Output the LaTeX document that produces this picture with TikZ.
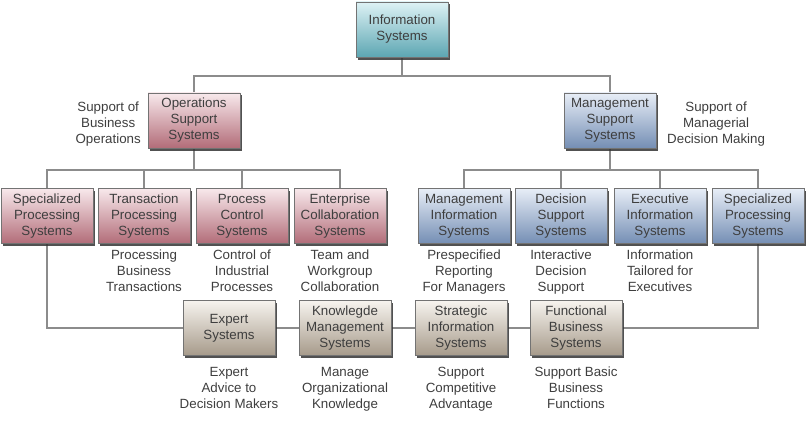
\documentclass[tikz,border=0pt]{standalone}
\usepackage{fontspec}
\setmainfont{Liberation Sans}
\usetikzlibrary{positioning, shadows, backgrounds}
\definecolor{tealtop}{RGB}{222,242,245}
\definecolor{tealbot}{RGB}{92,166,178}
\definecolor{redtop}{RGB}{248,233,236}
\definecolor{redbot}{RGB}{178,108,120}
\definecolor{bluetop}{RGB}{232,238,247}
\definecolor{bluebot}{RGB}{116,142,180}
\definecolor{tantop}{RGB}{247,244,239}
\definecolor{tanbot}{RGB}{166,154,138}
\definecolor{txtgray}{RGB}{62,62,62}
\definecolor{linegray}{RGB}{140,140,140}

\begin{document}
\begin{tikzpicture}[x=0.75pt, y=-0.75pt,
  every node/.style={font=\fontsize{10}{12}\selectfont, text=txtgray},
  box/.style={rectangle, draw=black!55, line width=0.4pt, inner sep=2pt,
              align=center, minimum width=69pt, minimum height=41.5pt,
              drop shadow={shadow xshift=1.8pt, shadow yshift=-1.8pt,
                           fill=black!80, opacity=0.85}},
  tealbox/.style={box, top color=tealtop, bottom color=tealbot},
  redbox/.style={box, top color=redtop, bottom color=redbot},
  bluebox/.style={box, top color=bluetop, bottom color=bluebot},
  tanbox/.style={box, top color=tantop, bottom color=tanbot},
  note/.style={align=center, inner sep=1pt},
  link/.style={draw=linegray, line width=1pt}
]
  \useasboundingbox (0,0) rectangle (806,428);

  \node[tealbox] (is) at (402,29.5) {Information\\Systems};
  \node[redbox]  (oss) at (194,120.5) {Operations\\Support\\Systems};
  \node[bluebox] (mss) at (610,120.5) {Management\\Support\\Systems};

  \node[redbox] (spl) at (47,216)  {Specialized\\Processing\\Systems};
  \node[redbox] (tps) at (144,216) {Transaction\\Processing\\Systems};
  \node[redbox] (pcs) at (242,216) {Process\\Control\\Systems};
  \node[redbox] (ecs) at (340,216) {Enterprise\\Collaboration\\Systems};

  \node[bluebox] (mis) at (464,216) {Management\\Information\\Systems};
  \node[bluebox] (dss) at (561,216) {Decision\\Support\\Systems};
  \node[bluebox] (eis) at (660,216) {Executive\\Information\\Systems};
  \node[bluebox] (spr) at (758,216) {Specialized\\Processing\\Systems};

  \node[tanbox] (es)  at (229,328) {Expert\\Systems};
  \node[tanbox] (kms) at (345,328) {Knowlegde\\Management\\Systems};
  \node[tanbox] (sis) at (461,328) {Strategic\\Information\\Systems};
  \node[tanbox] (fbs) at (576,328) {Functional\\Business\\Systems};

  \node[note, left=4pt of oss, yshift=-3pt]  (ossnote) {Support of\\Business\\Operations};
  \node[note, right=7pt of mss, yshift=-3pt] (mssnote) {Support of\\Managerial\\Decision Making};

  \node[note, below=3pt of tps] (tpsnote) {Processing\\Business\\Transactions};
  \node[note, below=3pt of pcs] (pcsnote) {Control of\\Industrial\\Processes};
  \node[note, below=3pt of ecs] (ecsnote) {Team and\\Workgroup\\Collaboration};
  \node[note, below=3pt of mis] (misnote) {Prespecified\\Reporting\\For Managers};
  \node[note, below=3pt of dss] (dssnote) {Interactive\\Decision\\Support};
  \node[note, below=3pt of eis] (eisnote) {Information\\Tailored for\\Executives};

  \node[note, below=7pt of es]  (esnote)  {Expert\\Advice to\\Decision Makers};
  \node[note, below=7pt of kms] (kmsnote) {Manage\\Organizational\\Knowledge};
  \node[note, below=7pt of sis] (sisnote) {Support\\Competitive\\Advantage};
  \node[note, below=7pt of fbs] (fbsnote) {Support Basic\\Business\\Functions};

  \coordinate (topj) at (402,76);
  \coordinate (opsj) at (194,170);
  \coordinate (mgtj) at (610,170);

  \begin{scope}[on background layer]
    \draw[link] (is) -- (topj) -| (oss);
    \draw[link] (topj) -| (mss);
    \draw[link] (oss) -- (opsj);
    \foreach \n in {spl,tps,pcs,ecs}
      \draw[link] (opsj) -| (\n);
    \draw[link] (mss) -- (mgtj);
    \foreach \n in {mis,dss,eis,spr}
      \draw[link] (mgtj) -| (\n);
    \draw[link] (spl) |- (es);
    \draw[link] (es) -- (kms) -- (sis) -- (fbs);
    \draw[link] (fbs) -| (spr);
  \end{scope}
\end{tikzpicture}
\end{document}
